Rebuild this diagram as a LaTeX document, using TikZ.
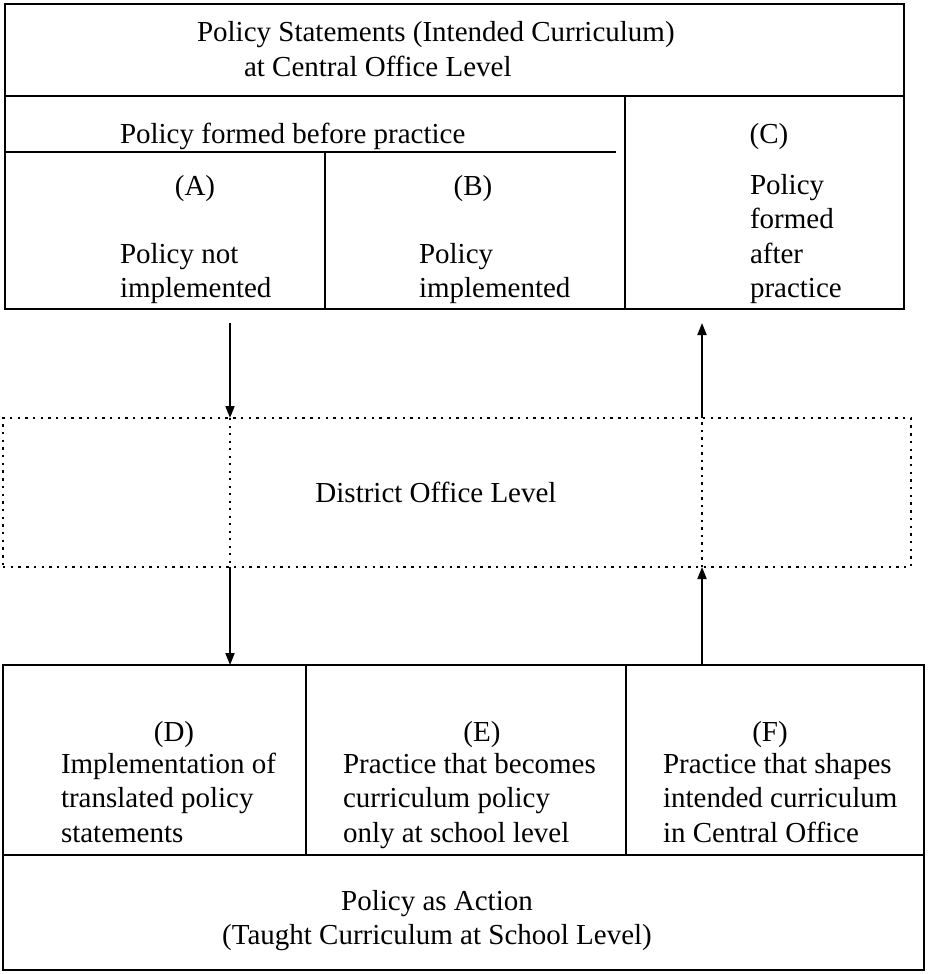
\documentclass[tikz,border=0pt]{standalone}
\usepackage{fontspec}
\setmainfont{Liberation Serif}
\usetikzlibrary{arrows.meta}
\newcommand{\firstrow}{\rule{0pt}{21pt}}
\tikzset{
  frame/.style={draw, line width=2.7pt, inner sep=0pt, outer sep=0pt, anchor=north west},
  dotframe/.style={frame, line width=2.4pt, dash pattern=on 2.4pt off 5.3pt},
  rule/.style={line width=2.7pt},
  txt/.style={font=\fontsize{29}{34.5}\selectfont, inner sep=0pt, outer sep=0pt},
  para/.style={txt, align=left, anchor=north west},
  tag/.style={txt, anchor=base},
  flow/.style={line width=1.8pt, -{Triangle[length=12pt,width=9pt]}},
  pass/.style={line width=2.2pt, dash pattern=on 2.2pt off 5.3pt},
}
\begin{document}
\begin{tikzpicture}[x=1pt,y=-1pt]
\useasboundingbox (0,0) rectangle (927,974);

% Central office block
\node[frame, minimum width=899pt, minimum height=305pt] (central) at (5,4) {};
\draw[rule] (5,96) -- (904,96);
\draw[rule] (5,152) -- (616,152);
\draw[rule] (625,96) -- (625,309);
\draw[rule] (325,152) -- (325,309);

\node[para] (title) at (197,21) {\firstrow Policy Statements (Intended Curriculum)\\\hspace*{47pt}at Central Office Level};
\node[txt, anchor=base west] (before) at (120,143) {Policy formed before practice};
\node[tag] (A) at (195,195) {(A)};
\node[para] (Atext) at (120,242) {\firstrow Policy not\\implemented};
\node[tag] (B) at (473,195) {(B)};
\node[para] (Btext) at (419,242) {\firstrow Policy\\implemented};
\node[tag] (C) at (769,143) {(C)};
\node[para] (Ctext) at (750,173) {\firstrow Policy\\formed\\after\\practice};

% District office level
\node[dotframe, minimum width=908pt, minimum height=149pt] (district) at (3,418) {};
\node[txt] (districttext) at (436,492) {District Office Level};

% School level block
\node[frame, minimum width=921pt, minimum height=305pt] (school) at (3,665) {};
\draw[rule] (3,855) -- (924,855);
\draw[rule] (306,665) -- (306,855);
\draw[rule] (626,665) -- (626,855);

\node[tag] (D) at (174,741) {(D)};
\node[para] (Dtext) at (61,752) {\firstrow Implementation of\\translated policy\\statements};
\node[tag] (E) at (482,741) {(E)};
\node[para] (Etext) at (343,752) {\firstrow Practice that becomes\\curriculum policy\\only at school level};
\node[tag] (F) at (770,741) {(F)};
\node[para] (Ftext) at (663,752) {\firstrow Practice that shapes\\intended curriculum\\in Central Office};
\node[txt, align=center, anchor=north] (action) at (437,889) {\firstrow Policy as Action\\(Taught Curriculum at School Level)};

% Flows between the levels
\coordinate (down) at (230,323);
\coordinate (up) at (702,323);
\draw[flow] (down) -- (down |- district.north);
\draw[pass] (down |- district.north) -- (down |- district.south);
\draw[flow] (down |- district.south) -- (down |- school.north);
\draw[flow] (up |- school.north) -- (up |- district.south);
\draw[pass] (up |- district.south) -- (up |- district.north);
\draw[flow] (up |- district.north) -- (up);
\end{tikzpicture}
\end{document}
